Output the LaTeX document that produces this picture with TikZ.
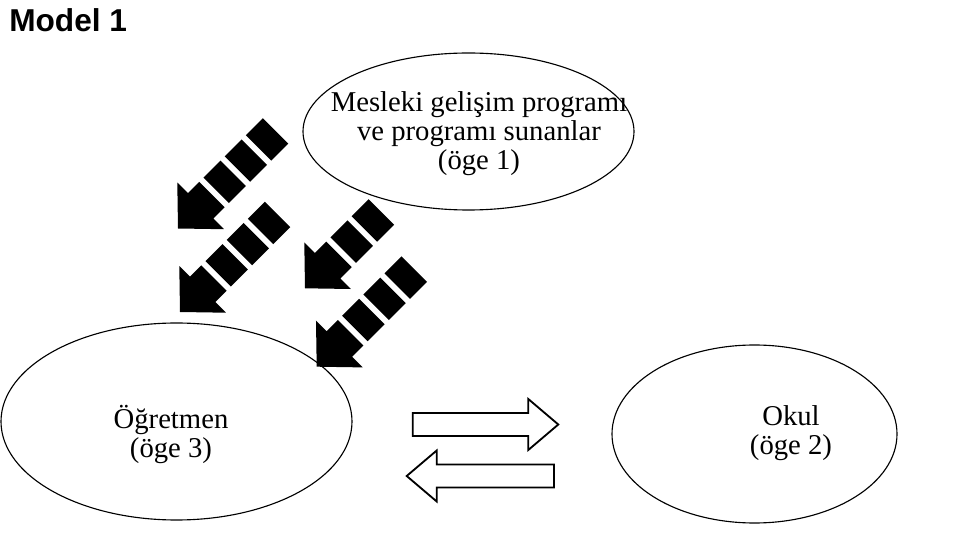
\documentclass[tikz,border=0pt]{standalone}
\usepackage{fontspec}
\setmainfont{Liberation Serif}
\newfontfamily\headfont{Liberation Sans}
\usetikzlibrary{shapes.geometric}

\newcommand{\px}{0.025cm}

% black arrow cut into blocks, tip at #1, #2 blocks behind the head
\newcommand{\blockarrow}[2]{
    \begin{scope}[shift={#1},rotate=45]
        \fill (0,0) -- (32,33) -- (32,18) -- (48,18) -- (48,-18) -- (32,-18) -- (32,-33) -- cycle;
        \foreach \blk in {1,...,#2} {
            \fill ({24+30*\blk},-18) rectangle ({48+30*\blk},18);
        };
    \end{scope}
}

\begin{document}
\begin{tikzpicture}[x=\px,y=-\px]
        \tikzstyle{bubble}=[draw,ellipse,inner sep=0pt,outer sep=0pt,line width=0.8pt]
        \tikzstyle{txt}=[align=center,inner sep=0pt,font=\fontsize{20.4}{20.6}\selectfont]
        \tikzstyle{flow}=[draw,line width=1.3pt,line join=miter]

        \useasboundingbox (0,0) rectangle (968,544);

        \node [anchor=base west,inner sep=0pt,font=\headfont\bfseries\fontsize{22.5}{26}\selectfont] (title) at (9,32) {Model 1};

        \node [bubble,minimum width=331*\px,minimum height=157*\px] (oge1) at (468.5,131.5) {};
        \node [bubble,minimum width=285*\px,minimum height=178*\px] (oge2) at (754.5,434) {};
        \node [bubble,minimum width=351*\px,minimum height=197*\px] (oge3) at (176.5,421.5) {};

        \node [txt] (oge1_text) at (479,133.5) {Mesleki gelişim programı\\ve programı sunanlar\\(öge 1)};
        \node [txt] (oge2_text) at (791,433) {Okul\\(öge 2)};
        \node [txt] (oge3_text) at (171,434) {Öğretmen\\(öge 3)};

        %arrows from the programme to the teacher
        \blockarrow{(178,228.5)}{3}
        \blockarrow{(180,312)}{3}
        \blockarrow{(305,288.3)}{2}
        \blockarrow{(316.7,366.7)}{3}

        %teacher <-> school
        \draw [flow] (412.7,413) -- (528.3,413) -- (528.3,399) -- (558.3,424.5) -- (528.3,450) -- (528.3,436) -- (412.7,436) -- cycle;
        \draw [flow] (554,464.5) -- (436.7,464.5) -- (436.7,450.5) -- (406.7,476) -- (436.7,501.5) -- (436.7,487.5) -- (554,487.5) -- cycle;
\end{tikzpicture}
\end{document}
